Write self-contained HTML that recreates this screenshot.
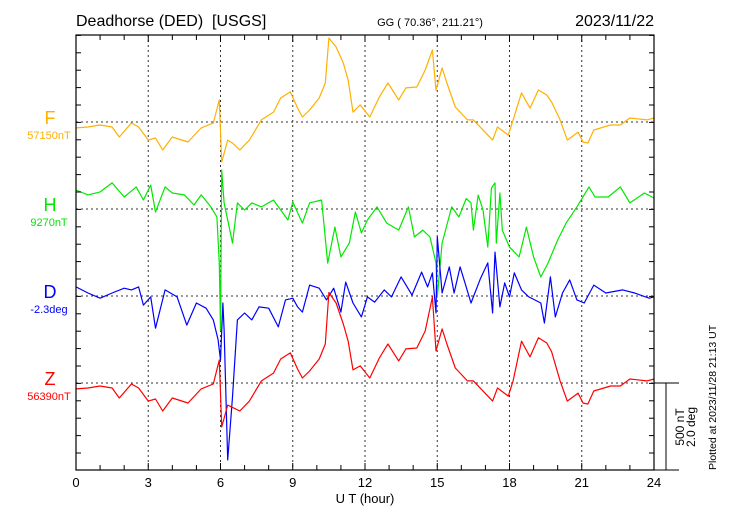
<!DOCTYPE html>
<html><head><meta charset="utf-8"><style>
body{margin:0;background:#fff}
svg{display:block;font-family:"Liberation Sans",sans-serif}
</style></head><body>
<svg id="chart" width="730" height="520" viewBox="0 0 730 520"></svg>
<script>
const hourTicks=[0,3,6,9,12,15,18,21,24];
const fTime=[0,0.5,1,1.5,1.8,2.3,2.6,3,3.3,3.6,4,4.65,5.2,5.7,5.95,6.05,6.3,6.5,6.8,7.2,7.7,8.2,8.5,8.9,9.2,9.4,9.7,10.1,10.35,10.5,10.8,11.1,11.3,11.5,11.8,12.2,12.6,12.95,13.4,13.7,14.15,14.5,14.8,14.95,15.2,15.4,15.75,16.25,16.5,17.3,17.5,17.95,18.15,18.5,18.85,19.2,19.55,19.75,20.1,20.4,20.85,21.05,21.25,21.5,22.2,22.6,23,23.7,24];
const fVals=[-34,-29,-17,-29,-86,-6,-29,-104,-92,-161,-86,-115,-34,-6,127,-230,-104,-121,-161,-104,12,57,138,173,80,29,69,138,224,483,431,339,242,57,98,29,144,224,127,196,201,299,414,184,311,224,86,12,12,-104,-29,-75,12,167,80,184,155,115,12,-104,-58,-115,-121,-46,-17,-17,23,12,23];
const zVals=[-34,-29,-17,-29,-86,-6,-29,-104,-92,-161,-86,-115,-34,-6,132,-253,-127,-140,-161,-104,12,57,138,173,80,29,69,138,224,520,460,339,242,75,98,29,144,224,127,196,201,299,494,184,311,224,86,12,12,-104,-29,-75,12,240,150,260,230,180,12,-104,-58,-115,-121,-46,-17,-17,23,12,23];
const hTime=[0,0.5,1,1.5,2,2.5,2.8,3.1,3.3,3.7,4,4.5,4.9,5.2,5.6,5.85,5.95,6.0,6.05,6.15,6.3,6.5,6.7,7,7.3,7.7,8.2,8.5,8.8,9,9.4,9.7,10.2,10.45,10.75,11,11.35,11.6,11.85,12.1,12.5,12.9,13.4,13.8,14.05,14.4,14.7,14.95,15.0,15.2,15.6,15.9,16.2,16.4,16.5,16.7,16.9,17.1,17.25,17.4,17.45,17.6,17.7,18.0,18.4,18.7,19.0,19.3,19.6,20.0,20.35,20.8,21.3,21.55,22.1,22.6,23.0,23.6,24];
const hVals=[109,81,98,150,69,127,52,138,-17,127,92,81,23,81,12,-46,-311,-696,224,35,-63,-196,35,-6,35,12,52,-6,-63,40,-81,35,52,-311,-104,-276,-196,-17,-138,-63,12,-81,-121,12,-161,-121,-161,-311,-506,-196,12,-46,60,35,-121,80,-6,-219,120,150,-196,92,-121,-219,-276,-104,-276,-391,-311,-178,-81,12,127,69,69,127,35,92,63];
const dTime=[0,0.5,1,1.5,2,2.3,2.6,2.8,3.1,3.3,3.7,4.2,4.6,5.0,5.4,5.7,5.9,6.0,6.1,6.15,6.3,6.5,6.7,7,7.3,7.6,8,8.4,8.7,9,9.2,9.4,9.7,10.1,10.4,10.7,11.0,11.2,11.5,11.85,12.1,12.4,12.8,13.1,13.5,13.95,14.35,14.6,14.8,14.95,15.0,15.2,15.5,15.7,15.95,16.2,16.4,16.8,17.1,17.3,17.4,17.6,17.8,18.0,18.2,18.5,18.8,19.3,19.45,19.7,19.9,20.2,20.5,20.8,21.1,21.5,22.0,22.7,23.2,23.8,24];
const dVals=[0.21,0.07,-0.05,0.07,0.18,0.14,0.21,-0.21,-0.02,-0.74,0.14,-0.02,-0.67,-0.16,-0.28,-0.55,-1.01,-1.47,-0.16,-0.78,-3.77,-2.32,-0.55,-0.39,-0.55,-0.25,-0.28,-0.71,-0.09,-0.05,-0.25,-0.37,0.25,0.18,-0.09,0.18,-0.37,0.32,-0.16,-0.48,-0.02,-0.14,0.14,-0.02,0.44,0.02,0.55,0.21,0.53,-0.39,1.36,0.07,0.67,0.07,0.67,0.21,-0.16,0.41,0.76,-0.39,1.01,-0.25,0.30,-0.02,0.53,0.14,-0.02,-0.16,-0.62,0.44,-0.48,0.07,0.37,-0.09,-0.16,0.25,0.07,0.14,0.07,-0.05,-0.02];

const NS='http://www.w3.org/2000/svg';
const svg=document.getElementById('chart');
const L=76,R=654,T=35,B=470;
const xS=t=>L+t*(R-L)/24;
const nT=v=>v*87/500;
const deg=v=>v*87/2.0;
function mk(tag,attrs,parent){const e=document.createElementNS(NS,tag);for(const k in attrs)e.setAttribute(k,attrs[k]);(parent||svg).appendChild(e);return e;}
function txt(s,attrs){const e=mk('text',attrs);e.textContent=s;return e;}

hourTicks.slice(1,-1).forEach(h=>{const g=mk('line',{x1:xS(h),x2:xS(h),y1:T,y2:B,stroke:'#333','stroke-dasharray':'2,3','stroke-width':1});

});
const bases=[122,209,296,383];
bases.forEach(y=>{const g=mk('line',{x1:L,x2:R,y1:y,y2:y,stroke:'#333','stroke-dasharray':'2,3','stroke-width':1});

});

function series(times,vals,base,scale,color,name){
  const d=times.map((t,i)=>(i?'L':'M')+xS(t).toFixed(1)+','+(base-scale(vals[i])).toFixed(1)).join('');
  const p=mk('path',{d:d,fill:'none',stroke:color,'stroke-width':1.2,'stroke-linejoin':'round'});
  
  
}
series(fTime,fVals,122,nT,'#FFB000','f-series');
series(hTime,hVals,209,nT,'#00E800','h-series');
series(dTime,dVals,296,deg,'#0000FF','d-series');
series(fTime,zVals,383,nT,'#FF0000','z-series');

const fr=mk('rect',{x:L,y:T,width:R-L,height:B-T,fill:'none',stroke:'#000','stroke-width':1.2});


for(let h=0;h<=24;h++){const len=(h%3===0)?7:5;
  mk('line',{x1:xS(h),x2:xS(h),y1:B,y2:B-len,stroke:'#000'});
  mk('line',{x1:xS(h),x2:xS(h),y1:T,y2:T+len,stroke:'#000'});}
for(let y=T+0.4;y<=B;y+=17.4){mk('line',{x1:L,x2:L+5,y1:y,y2:y,stroke:'#000'});mk('line',{x1:R,x2:R-5,y1:y,y2:y,stroke:'#000'});}
hourTicks.forEach(h=>{const e=txt(String(h),{x:xS(h),y:487,'font-size':13,'text-anchor':'middle'});

});
mk('line',{x1:R,x2:679,y1:383,y2:383,stroke:'#000'});
mk('line',{x1:R,x2:679,y1:470,y2:470,stroke:'#000'});
mk('line',{x1:666,x2:666,y1:383,y2:470,stroke:'#000'});
</script>
<svg width="730" height="520" style="position:absolute;left:0;top:0">
<g font-family="Liberation Sans, sans-serif">
<text x="76" y="26" font-size="16" xml:space="preserve" style="white-space:pre">Deadhorse (DED)  [USGS]</text>
<text x="430" y="26" font-size="11" text-anchor="middle">GG ( 70.36°, 211.21°)</text>
<text x="654" y="26" font-size="16" text-anchor="end">2023/11/22</text>
<text x="50" y="124" font-size="18" fill="#FFB000" text-anchor="middle">F</text>
<text x="49" y="139" font-size="11" fill="#FFB000" text-anchor="middle">57150nT</text>
<text x="50" y="211" font-size="18" fill="#00E800" text-anchor="middle">H</text>
<text x="49" y="226" font-size="11" fill="#00E800" text-anchor="middle">9270nT</text>
<text x="50" y="298" font-size="18" fill="#0000FF" text-anchor="middle">D</text>
<text x="49" y="313" font-size="11" fill="#0000FF" text-anchor="middle">-2.3deg</text>
<text x="50" y="385" font-size="18" fill="#FF0000" text-anchor="middle">Z</text>
<text x="49" y="400" font-size="11" fill="#FF0000" text-anchor="middle">56390nT</text>
<text x="365" y="503" font-size="13" text-anchor="middle">U T (hour)</text>
<text transform="translate(684,427) rotate(-90)" font-size="12" text-anchor="middle">500 nT</text>
<text transform="translate(695,427) rotate(-90)" font-size="12" text-anchor="middle">2.0 deg</text>
<text transform="translate(716,470) rotate(-90)" font-size="10.5">Plotted at 2023/11/28 21:13 UT</text>
</g></svg>
</body></html>
